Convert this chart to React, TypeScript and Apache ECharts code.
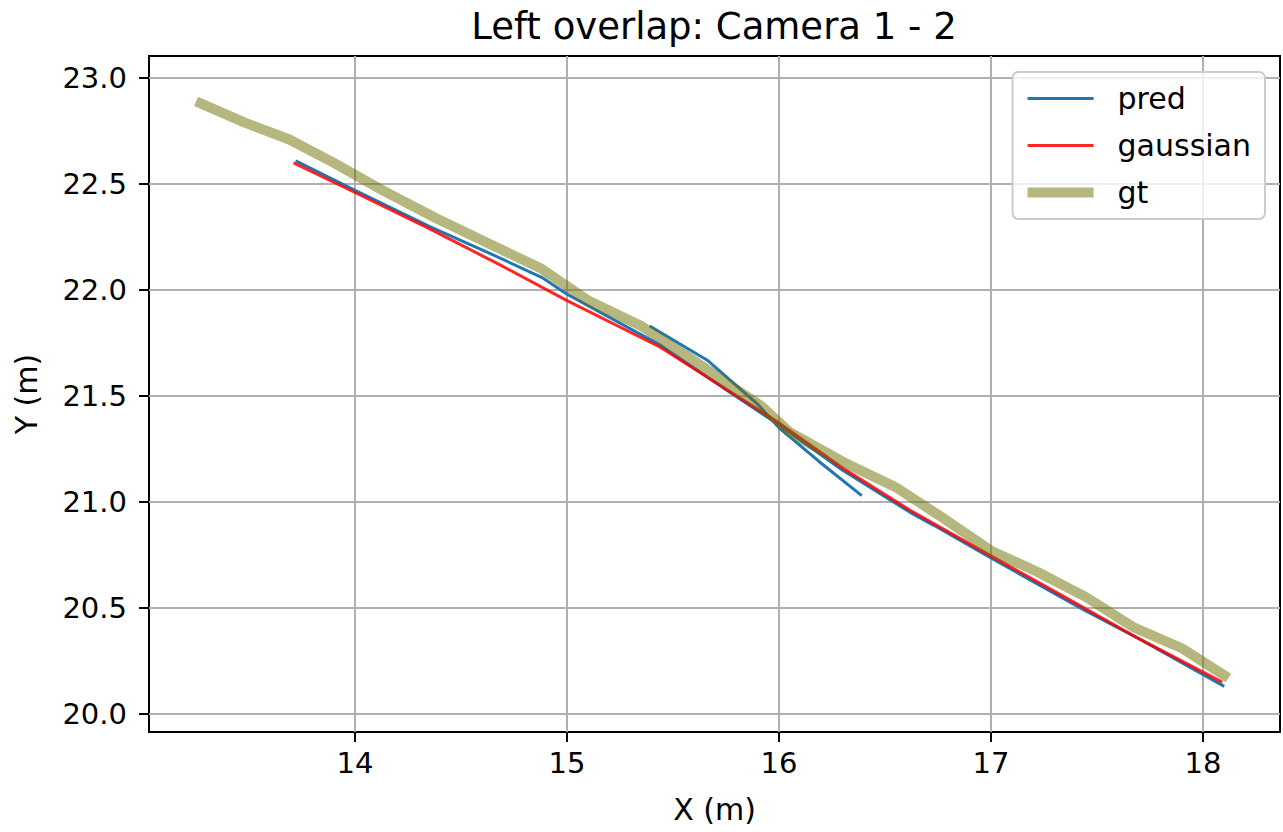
import React, { useEffect, useRef } from "react";
import * as echarts from "echarts";

const TITLE = "Left overlap: Camera 1 - 2";
const X_TICKS = [14, 15, 16, 17, 18];
const Y_TICKS = [20.0, 20.5, 21.0, 21.5, 22.0, 22.5, 23.0];

// pred (camera 1 track)
const PRED_A: [number, number][] = [
  [13.72, 22.61], [14.0, 22.47], [14.35, 22.3], [14.62, 22.18], [14.88, 22.06],
  [15.0, 21.98], [15.44, 21.74], [15.75, 21.53], [15.99, 21.37], [16.3, 21.15],
  [16.62, 20.95], [16.73, 20.89], [17.01, 20.73], [17.44, 20.49], [17.67, 20.37],
  [18.1, 20.13],
];
// pred (camera 2 track)
const PRED_B: [number, number][] = [
  [15.39, 21.83], [15.66, 21.67], [15.9, 21.46], [16.0, 21.35], [16.19, 21.19],
  [16.39, 21.03],
];
const GAUSSIAN: [number, number][] = [
  [13.71, 22.6], [14.0, 22.46], [14.35, 22.29], [14.7, 22.11], [15.0, 21.95],
  [15.44, 21.73], [15.99, 21.38], [16.3, 21.16], [16.62, 20.96], [17.01, 20.74],
  [17.35, 20.55], [17.67, 20.37], [18.09, 20.15],
];
const GT: [number, number][] = [
  [13.25, 22.89], [13.48, 22.79], [13.69, 22.71], [13.9, 22.6], [14.13, 22.47],
  [14.38, 22.34], [14.63, 22.22], [14.88, 22.1], [15.1, 21.95], [15.35, 21.83],
  [15.58, 21.68], [15.8, 21.53], [15.92, 21.45], [16.05, 21.33], [16.3, 21.19],
  [16.55, 21.07], [16.75, 20.94], [17.0, 20.77], [17.22, 20.67], [17.45, 20.55],
  [17.67, 20.41], [17.9, 20.31], [18.12, 20.17],
];

const FONT = "DejaVu Sans";
const BLUE = "#1f77b4";
const RED = "rgba(255,0,0,0.85)";
const OLIVE = "rgba(110,112,0,0.5)";

export default function App() {
  const ref = useRef<HTMLDivElement>(null);
  useEffect(() => {
    if (!ref.current) return;
    const chart = echarts.init(ref.current, null, { renderer: "svg" });
    const lineBase = { type: "line", showSymbol: false, symbol: "none", smooth: false };
    chart.setOption({
      animation: false,
      backgroundColor: "#ffffff",
      textStyle: { fontFamily: FONT },
      graphic: [
        {
          type: "text",
          x: 714,
          y: 26,
          style: {
            text: TITLE,
            fontFamily: FONT,
            fontSize: 37,
            fill: "#000",
            textAlign: "center",
            textVerticalAlign: "middle",
          },
        },
      ],
      legend: {
        data: [
          { name: "pred", lineStyle: { width: 3, color: BLUE }, itemStyle: { opacity: 0 } },
          { name: "gaussian", lineStyle: { width: 3, color: RED }, itemStyle: { opacity: 0 } },
          { name: "gt", lineStyle: { width: 10, color: OLIVE }, itemStyle: { opacity: 0 } },
        ],
        orient: "vertical",
        right: 18,
        top: 72,
        itemWidth: 66,
        itemHeight: 12,
        itemGap: 14,
        padding: [10, 14, 10, 10],
        backgroundColor: "rgba(255,255,255,0.8)",
        borderColor: "#cccccc",
        borderWidth: 2,
        borderRadius: 6,
        itemStyle: { opacity: 0 },
        textStyle: { fontFamily: FONT, fontSize: 30, color: "#000", lineHeight: 33, padding: [0, 0, 0, 19] },
      },
      grid: {
        left: 149,
        right: 3,
        top: 56,
        bottom: 100,
        show: true,
        borderColor: "#000",
        borderWidth: 2,
        backgroundColor: "transparent",
      },
      xAxis: {
        type: "value",
        min: 13.028,
        max: 18.363,
        name: "X (m)",
        nameLocation: "middle",
        nameGap: 62,
        nameTextStyle: { fontFamily: FONT, fontSize: 30, color: "#000" },
        axisLine: { show: false },
        axisTick: { show: true, inside: false, length: 10, lineStyle: { color: "#000", width: 2 }, customValues: X_TICKS },
        axisLabel: {
          customValues: X_TICKS,
          fontFamily: FONT,
          fontSize: 29,
          color: "#000",
          margin: 16,
          formatter: (v: number) => String(Math.round(v)),
        },
        splitLine: { show: true, lineStyle: { color: "#b0b0b0", width: 2 } },
      },
      yAxis: {
        type: "value",
        min: 19.915,
        max: 23.104,
        name: "Y (m)",
        nameLocation: "middle",
        nameGap: 108,
        nameTextStyle: { fontFamily: FONT, fontSize: 30, color: "#000" },
        axisLine: { show: false },
        axisTick: { show: true, inside: false, length: 10, lineStyle: { color: "#000", width: 2 }, customValues: Y_TICKS },
        axisLabel: {
          customValues: Y_TICKS,
          fontFamily: FONT,
          fontSize: 29,
          color: "#000",
          margin: 22,
          formatter: (v: number) => v.toFixed(1),
        },
        splitLine: { show: true, lineStyle: { color: "#b0b0b0", width: 2 } },
      },
      series: [
        { ...lineBase, name: "pred", data: PRED_A, color: BLUE, lineStyle: { color: BLUE, width: 3 }, z: 2 },
        { ...lineBase, name: "pred", data: PRED_B, color: BLUE, lineStyle: { color: BLUE, width: 3 }, z: 2 },
        { ...lineBase, name: "gaussian", data: GAUSSIAN, color: RED, lineStyle: { color: RED, width: 3 }, z: 3 },
        { ...lineBase, name: "gt", data: GT, color: OLIVE, lineStyle: { color: OLIVE, width: 10 }, z: 4 },
      ],
    });
    return () => chart.dispose();
  }, []);
  return (
    <div
      ref={ref}
      style={{ position: "fixed", left: 0, top: 0, width: 1283, height: 832, background: "#fff" }}
    />
  );
}
